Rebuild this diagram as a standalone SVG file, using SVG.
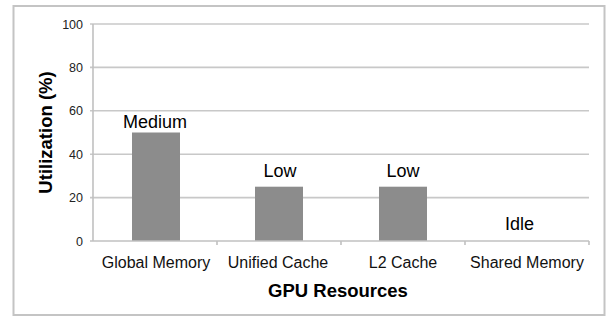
<svg xmlns="http://www.w3.org/2000/svg" width="608" height="320" viewBox="0 0 608 320">
  <style>
    .grid { stroke: #c8c8c8; stroke-width: 1.6; fill: none; }
    .axis { stroke: #c0c0c0; stroke-width: 1.6; fill: none; }
    .bar { fill: #8c8c8c; }
    .tick { font-family: "Liberation Sans", Arial, sans-serif; font-size: 12.5px; fill: #222; text-anchor: end; }
    .cat { font-family: "Liberation Sans", Arial, sans-serif; font-size: 16px; fill: #111; text-anchor: middle; }
    .val { font-family: "Liberation Sans", Arial, sans-serif; font-size: 18px; fill: #000; text-anchor: middle; }
    .title { font-family: "Liberation Sans", Arial, sans-serif; font-size: 18.5px; font-weight: bold; fill: #000; text-anchor: middle; }
  </style>
  <rect x="0" y="0" width="608" height="320" fill="#ffffff"/>
  <!-- chart frame -->
  <rect x="13.5" y="6" width="591" height="309" fill="#ffffff" stroke="#c4c4c4" stroke-width="2"/>

  <!-- horizontal gridlines -->
  <g id="grid">
    <line class="grid" x1="90" y1="24" x2="589" y2="24"/>
    <line class="grid" x1="90" y1="67.4" x2="589" y2="67.4"/>
    <line class="grid" x1="90" y1="110.8" x2="589" y2="110.8"/>
    <line class="grid" x1="90" y1="154.2" x2="589" y2="154.2"/>
    <line class="grid" x1="90" y1="197.6" x2="589" y2="197.6"/>
  </g>

  <!-- bars with value labels -->
  <g id="bar-global-memory"><rect class="bar" x="132" y="132.5" width="48" height="108.5"/><text class="val" x="155" y="128">Medium</text></g>
  <g id="bar-unified-cache"><rect class="bar" x="255" y="186.7" width="48" height="54.3"/><text class="val" x="280" y="177">Low</text></g>
  <g id="bar-l2-cache"><rect class="bar" x="379" y="186.7" width="48" height="54.3"/><text class="val" x="403" y="177">Low</text></g>
  <g id="bar-shared-memory"><text class="val" x="519.5" y="230">Idle</text></g>

  <!-- axes -->
  <g id="axes">
    <line class="axis" x1="93" y1="24" x2="93" y2="241"/>
    <line class="axis" x1="90" y1="241" x2="589" y2="241"/>
    <line class="axis" x1="217" y1="241" x2="217" y2="245"/>
    <line class="axis" x1="341" y1="241" x2="341" y2="245"/>
    <line class="axis" x1="465" y1="241" x2="465" y2="245"/>
    <line class="axis" x1="589" y1="241" x2="589" y2="245"/>
  </g>

  <!-- y tick labels -->
  <g id="y-labels">
    <text class="tick" x="83" y="28.5">100</text>
    <text class="tick" x="83" y="71.9">80</text>
    <text class="tick" x="83" y="115.3">60</text>
    <text class="tick" x="83" y="158.7">40</text>
    <text class="tick" x="83" y="202.1">20</text>
    <text class="tick" x="83" y="245.5">0</text>
  </g>

  <!-- category labels -->
  <g id="x-labels">
    <text class="cat" x="156" y="267.5">Global Memory</text>
    <text class="cat" x="278" y="267.5">Unified Cache</text>
    <text class="cat" x="403" y="267.5">L2 Cache</text>
    <text class="cat" x="527" y="267.5">Shared Memory</text>
  </g>

  <!-- axis titles -->
  <text class="title" x="338" y="297">GPU Resources</text>
  <text class="title" transform="translate(51.5 132.5) rotate(-90)">Utilization (%)</text>
</svg>
